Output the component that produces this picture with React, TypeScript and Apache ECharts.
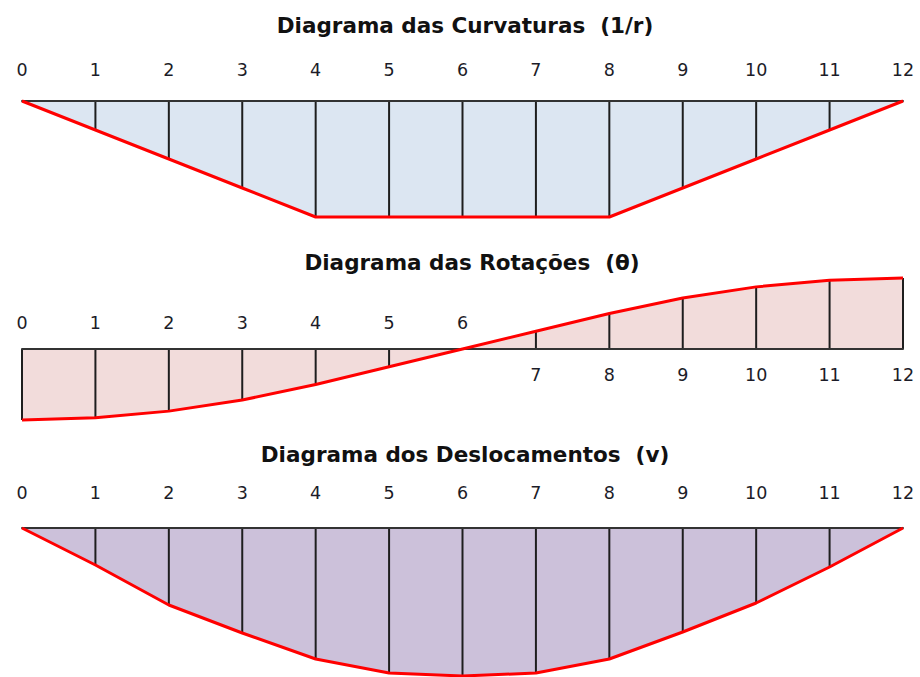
import React, { useEffect, useRef } from "react";
import * as echarts from "echarts";

const stations = [0, 1, 2, 3, 4, 5, 6, 7, 8, 9, 10, 11, 12];
const curvature = [0, -1, -2, -3, -4, -4, -4, -4, -4, -3, -2, -1, 0];
const rotation = [-16, -15.5, -14, -11.5, -8, -4, 0, 4, 8, 11.5, 14, 15.5, 16];
const displacement = [0, -37, -77, -105, -131, -145, -148, -145, -131, -104, -75, -39, 0];
const titles = [
  "Diagrama das Curvaturas  (1/r)",
  "Diagrama das Rotações  (θ)",
  "Diagrama dos Deslocamentos  (v)",
];

const pairs = (vals: number[]) => stations.map((s, i) => [s, vals[i]]);

const NUM_FONT = "DejaVu Sans";
const TITLE_FONT = "DejaVu Sans";

export default function App() {
  const ref = useRef<HTMLDivElement>(null);
  useEffect(() => {
    if (!ref.current) return;
    const chart = echarts.init(ref.current, undefined, { renderer: "svg" });

    const label = (margin: number, filter?: (v: number) => boolean) => ({
      show: true,
      margin,
      fontSize: 17.5,
      color: "#1c1c28",
      fontFamily: NUM_FONT,
      formatter: (v: number) => (filter && !filter(v) ? "" : String(v)),
    });
    const baseX = {
      type: "value",
      min: 0,
      max: 12,
      interval: 1,
      axisTick: { show: false },
      splitLine: { show: false },
      z: 3,
    };
    const axisLine = (show = true) => ({
      show,
      onZero: false,
      lineStyle: { color: "#333333", width: 2 },
    });
    const hiddenY = (gridIndex: number, min: number, max: number) => ({
      type: "value",
      gridIndex,
      min,
      max,
      axisLine: { show: false },
      axisTick: { show: false },
      axisLabel: { show: false },
      splitLine: { show: false },
    });

    const panelSeries = (vals: number[], fill: string, xi: number, yi: number) => [
      {
        type: "line",
        xAxisIndex: xi,
        yAxisIndex: yi,
        data: pairs(vals),
        symbol: "none",
        lineStyle: { width: 0 },
        areaStyle: { color: fill, opacity: 1 },
        clip: false,
        z: 1,
        silent: true,
      },
      {
        type: "bar",
        xAxisIndex: xi,
        yAxisIndex: yi,
        data: pairs(vals),
        barWidth: 2,
        itemStyle: { color: "#1e1e1e" },
        clip: false,
        z: 2,
        silent: true,
      },
      {
        type: "line",
        xAxisIndex: xi,
        yAxisIndex: yi,
        data: pairs(vals),
        symbol: "none",
        lineStyle: { color: "#ff0000", width: 3 },
        clip: false,
        z: 4,
        silent: true,
      },
    ];

    const titleTops = [13, 250, 442];
    const titleCenters = [465, 472, 465];
    const rotHalf = 71;

    chart.setOption({
      animation: false,
      title: titles.map((t, i) => ({
        text: t,
        left: titleCenters[i],
        textAlign: "center",
        top: titleTops[i],
        padding: 0,
        textStyle: {
          fontFamily: TITLE_FONT,
          fontWeight: "bold",
          fontSize: 21.5,
          lineHeight: 24,
          color: "#111111",
        },
      })),
      grid: [
        { left: 22, right: 17, top: 101, height: 116 },
        { left: 22, right: 17, top: 278, height: rotHalf * 2 },
        { left: 22, right: 17, top: 528, height: 148 },
      ],
      xAxis: [
        { ...baseX, gridIndex: 0, position: "top", axisLine: axisLine(), axisLabel: label(22) },
        {
          ...baseX,
          gridIndex: 1,
          position: "top",
          offset: -rotHalf,
          axisLine: axisLine(),
          axisLabel: label(17, (v) => v <= 6),
        },
        {
          ...baseX,
          gridIndex: 1,
          position: "bottom",
          offset: -rotHalf,
          axisLine: axisLine(false),
          axisLabel: label(17, (v) => v >= 7),
        },
        { ...baseX, gridIndex: 2, position: "top", axisLine: axisLine(), axisLabel: label(26) },
      ],
      yAxis: [hiddenY(0, -4, 0), hiddenY(1, -16, 16), hiddenY(2, -148, 0)],
      series: [
        ...panelSeries(curvature, "#dce6f2", 0, 0),
        ...panelSeries(rotation, "#f2dcdb", 1, 1),
        ...panelSeries(displacement, "#ccc1da", 3, 2),
      ],
    });
    return () => chart.dispose();
  }, []);
  return (
    <div
      ref={ref}
      style={{ position: "fixed", left: 0, top: 0, width: 920, height: 677, background: "#ffffff" }}
    />
  );
}
